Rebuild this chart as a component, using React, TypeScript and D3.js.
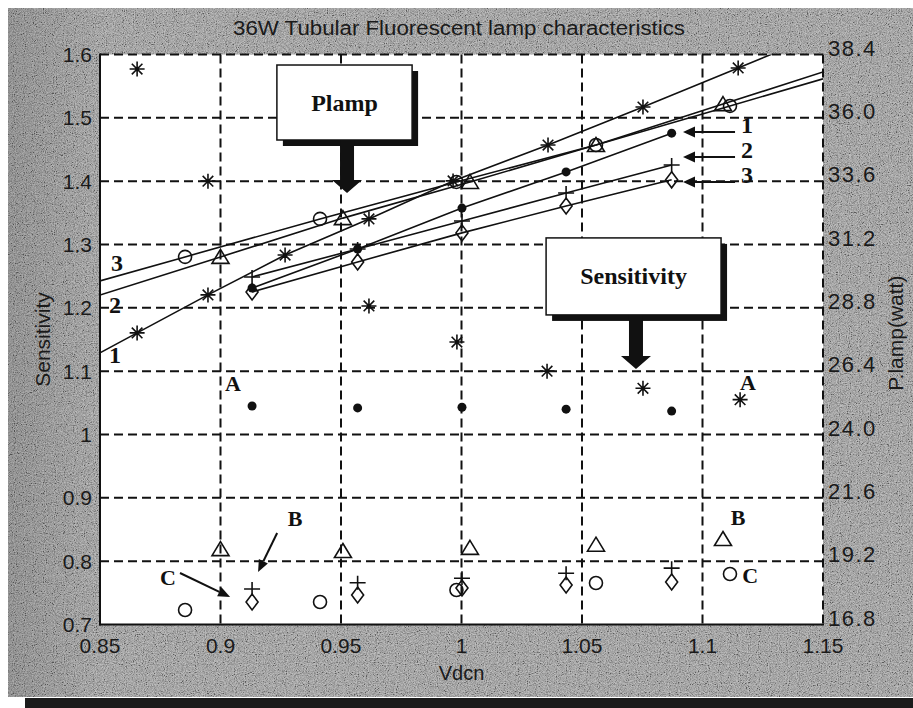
import React from 'react';
import * as d3 from 'd3';

// ---------- axis ticks ----------
const xTicks = [0.85, 0.9, 0.95, 1.0, 1.05, 1.1, 1.15];
const xTickLabels = ['0.85', '0.9', '0.95', '1', '1.05', '1.1', '1.15'];
const yTicks = [0.7, 0.8, 0.9, 1.0, 1.1, 1.2, 1.3, 1.4, 1.5, 1.6];
const yTickLabels = ['0.7', '0.8', '0.9', '1', '1.1', '1.2', '1.3', '1.4', '1.5', '1.6'];
const pTicks = [16.8, 19.2, 21.6, 24.0, 26.4, 28.8, 31.2, 33.6, 36.0, 38.4];
const pTickLabels = ['16.8', '19.2', '21.6', '24.0', '26.4', '28.8', '31.2', '33.6', '36.0', '38.4'];

// ---------- Plamp (watt, right axis) curves ----------
const vStar = [0.8654, 0.8948, 0.9268, 0.9616, 0.9965, 1.0359, 1.0753, 1.1148];
const pStar = [27.85, 29.29, 30.8, 32.17, 33.61, 34.97, 36.41, 37.89];
const vTri = [0.9, 0.9508, 1.0035, 1.0558, 1.1085];
const pTri = [30.73, 32.2, 33.57, 34.97, 36.52];
const vCircle = [0.8853, 0.9413, 0.9979, 1.0558, 1.1114];
const pCircle = [30.73, 32.17, 33.57, 34.97, 36.45];
const vMid = [0.9131, 0.9569, 1.0002, 1.0434, 1.0872];
const pDot = [29.55, 31.03, 32.58, 33.95, 35.42];
const pPlus = [29.97, 31.03, 32.09, 33.15, 34.21];
const pDiamond = [29.4, 30.54, 31.64, 32.66, 33.65];

// ---------- Sensitivity (left axis) points ----------
const vSensStar = [0.8654, 0.8948, 0.9616, 0.9981, 1.0355, 1.0753, 1.1156];
const sStar = [1.577, 1.4, 1.203, 1.146, 1.1, 1.073, 1.055];
const sDot = [1.045, 1.042, 1.043, 1.04, 1.037];
const sTri = [0.819, 0.816, 0.821, 0.826, 0.835];
const sPlus = [0.756, 0.766, 0.773, 0.781, 0.789];
const sDiamond = [0.7355, 0.7466, 0.7576, 0.7624, 0.7671];
const sCircle = [0.7229, 0.7355, 0.7545, 0.7655, 0.7797];

const W = 913;
const H = 708;
const L = 100, R = 823, T = 54.5, B = 624.5;

const xs = d3.scaleLinear().domain([0.85, 1.15]).range([L, R]);
const ys = d3.scaleLinear().domain([0.7, 1.6]).range([B, T]);
const yp = d3.scaleLinear().domain([16.8, 38.4]).range([B, T]);

const SANS = '"Liberation Sans", Arial, sans-serif';
const SERIF = '"Liberation Serif", "Times New Roman", serif';

function extendLine(v: number[], p: number[]): [number, number][] {
  const pts: [number, number][] = v.map((d, i) => [d, p[i]]);
  const s0 = (p[1] - p[0]) / (v[1] - v[0]);
  const n = v.length;
  const s1 = (p[n - 1] - p[n - 2]) / (v[n - 1] - v[n - 2]);
  const x0 = xs.domain()[0];
  const x1 = xs.domain()[1];
  return [[x0, p[0] + (x0 - v[0]) * s0], ...pts, [x1, p[n - 1] + (x1 - v[n - 1]) * s1]];
}

function Marker({ type, x, y }: { type: string; x: number; y: number }) {
  const st = { stroke: '#111', strokeWidth: 1.6, fill: 'none' } as const;
  if (type === 'circle') return <circle cx={x} cy={y} r={6.5} {...st} />;
  if (type === 'dot') return <circle cx={x} cy={y} r={4.5} fill="#111" />;
  let d = '';
  if (type === 'star') d = 'M-7.5,0H7.5M0,-7.5V7.5M-5.3,-5.3L5.3,5.3M-5.3,5.3L5.3,-5.3';
  if (type === 'plus') d = 'M-8,0H8M0,-7V7';
  if (type === 'tri') d = 'M0,-7.5L8.5,6.5L-8.5,6.5Z';
  if (type === 'diamond') d = 'M0,-8L6,0L0,8L-6,0Z';
  return <path d={d} transform={`translate(${x},${y})`} {...st} />;
}

function Arrow({ x1, y1, x2, y2, len = 12, wid = 5 }: { x1: number; y1: number; x2: number; y2: number; len?: number; wid?: number }) {
  const dx = x2 - x1, dy = y2 - y1;
  const d = Math.hypot(dx, dy);
  const ux = dx / d, uy = dy / d;
  const bx = x2 - ux * len, by = y2 - uy * len;
  const head = `M${x2},${y2}L${bx - uy * wid},${by + ux * wid}L${bx + uy * wid},${by - ux * wid}Z`;
  return (
    <g>
      <line x1={x1} y1={y1} x2={bx} y2={by} stroke="#111" strokeWidth={2} />
      <path d={head} fill="#111" />
    </g>
  );
}

function BoxArrow({ v0, v1, sTop, sBot, vArrow, sTip, label }: { v0: number; v1: number; sTop: number; sBot: number; vArrow: number; sTip: number; label: string }) {
  const x0 = xs(v0), x1 = xs(v1), y0 = ys(sTop), y1 = ys(sBot);
  const cx = xs(vArrow), tip = ys(sTip);
  const hs = tip - 13;
  const arrow = `M${cx - 7},${y1}L${cx - 7},${hs}L${cx - 15},${hs}L${cx},${tip}L${cx + 15},${hs}L${cx + 7},${hs}L${cx + 7},${y1}Z`;
  return (
    <g>
      <rect x={x0 + 6} y={y0 + 6} width={x1 - x0} height={y1 - y0} fill="#111" />
      <rect x={x0} y={y0} width={x1 - x0} height={y1 - y0} fill="#fff" stroke="#111" strokeWidth={1.5} />
      <path d={arrow} fill="#111" />
      <text x={(x0 + x1) / 2} y={(y0 + y1) / 2 + 8} textAnchor="middle" fontFamily={SERIF} fontWeight="bold" fontSize={24} fill="#111">
        {label}
      </text>
    </g>
  );
}

export default function App() {
  const lineGen = d3.line<[number, number]>().x(d => xs(d[0])).y(d => yp(d[1]));

  const plampCurves = [
    { v: vStar, p: pStar, m: 'star', ext: true },
    { v: vTri, p: pTri, m: 'tri', ext: true },
    { v: vCircle, p: pCircle, m: 'circle', ext: true },
    { v: vMid, p: pDot, m: 'dot', ext: false },
    { v: vMid, p: pPlus, m: 'plus', ext: false },
    { v: vMid, p: pDiamond, m: 'diamond', ext: false },
  ];
  const sensPoints = [
    { v: vSensStar, s: sStar, m: 'star' },
    { v: vMid, s: sDot, m: 'dot' },
    { v: vTri, s: sTri, m: 'tri' },
    { v: vMid, s: sPlus, m: 'plus' },
    { v: vMid, s: sDiamond, m: 'diamond' },
    { v: vCircle, s: sCircle, m: 'circle' },
  ];

  const labelStyle = { fontFamily: SERIF, fontWeight: 'bold' as const, fontSize: 24, fill: '#111' };

  return (
    <svg width={W} height={H} style={{ position: 'absolute', left: 0, top: 0, background: '#fff' }}>
      <defs>
        <filter id="grain" x="0" y="0" width="100%" height="100%">
          <feTurbulence type="fractalNoise" baseFrequency="0.9" numOctaves="3" seed="11" stitchTiles="stitch" />
          <feColorMatrix type="saturate" values="0" />
          <feComponentTransfer>
            <feFuncR type="linear" slope="2.4" intercept="-0.7" />
            <feFuncG type="linear" slope="2.4" intercept="-0.7" />
            <feFuncB type="linear" slope="2.4" intercept="-0.7" />
            <feFuncA type="table" tableValues="1 1" />
          </feComponentTransfer>
        </filter>
        <linearGradient id="leftShade" x1="0" x2="1" y1="0" y2="0">
          <stop offset="0" stopColor="#000" stopOpacity="0.12" />
          <stop offset="1" stopColor="#000" stopOpacity="0" />
        </linearGradient>
        <clipPath id="plotClip">
          <rect x={L} y={T} width={R - L} height={B - T} />
        </clipPath>
      </defs>

      {/* textured gray panel */}
      <rect x={8} y={8} width={W - 8} height={689} fill="#989898" />
      <rect x={8} y={8} width={W - 8} height={689} filter="url(#grain)" opacity={0.4} />
      <rect x={8} y={8} width={95} height={689} fill="url(#leftShade)" />
      <rect x={25} y={698} width={W - 25} height={10} fill="#1b1b1b" />

      {/* plot area */}
      <rect x={L} y={T} width={R - L} height={B - T} fill="#fff" />

      {/* grid */}
      <g stroke="#111" strokeWidth={2} strokeDasharray="9 5">
        {xTicks.slice(1).map(t => (
          <line key={'gx' + t} x1={xs(t)} x2={xs(t)} y1={T} y2={B} />
        ))}
        {yTicks.slice(1).map(t => (
          <line key={'gy' + t} x1={L} x2={R} y1={ys(t)} y2={ys(t)} />
        ))}
      </g>
      <line x1={L} x2={L} y1={T - 1} y2={B + 1} stroke="#111" strokeWidth={2} />
      <line x1={L - 1} x2={R + 1} y1={B} y2={B} stroke="#111" strokeWidth={2} />

      {/* Plamp curves */}
      <g clipPath="url(#plotClip)">
        {plampCurves.map((c, i) => (
          <path
            key={'c' + i}
            d={lineGen(c.ext ? extendLine(c.v, c.p) : c.v.map((d, j) => [d, c.p[j]] as [number, number])) || ''}
            fill="none"
            stroke="#111"
            strokeWidth={1.6}
          />
        ))}
      </g>
      {plampCurves.map((c, i) => (
        <g key={'m' + i}>
          {c.v.map((d, j) => (
            <Marker key={j} type={c.m} x={xs(d)} y={yp(c.p[j])} />
          ))}
        </g>
      ))}

      {/* Sensitivity points */}
      {sensPoints.map((c, i) => (
        <g key={'s' + i}>
          {c.v.map((d, j) => (
            <Marker key={j} type={c.m} x={xs(d)} y={ys(c.s[j])} />
          ))}
        </g>
      ))}

      {/* axis labels */}
      <g fontFamily={SANS} fontSize={21} fill="#1a1a1a">
        {yTicks.map((t, i) => (
          <text key={'yl' + t} x={L - 8} y={ys(t) + 7.5} textAnchor="end">
            {yTickLabels[i]}
          </text>
        ))}
        {xTicks.map((t, i) => (
          <text key={'xl' + t} x={xs(t)} y={B + 28} textAnchor="middle">
            {xTickLabels[i]}
          </text>
        ))}
        {pTicks.map((t, i) => (
          <text key={'pl' + t} x={R + 5} y={yp(t) + 1} textAnchor="start" fontSize={22} letterSpacing={1.5}>
            {pTickLabels[i]}
          </text>
        ))}
        <text x={xs(1.0)} y={680} textAnchor="middle" fontSize={20}>Vdcn</text>
        <text transform={`translate(50,${ys(1.15)}) rotate(-90)`} textAnchor="middle" fontSize={21}>Sensitivity</text>
        <text transform={`translate(903,${ys(1.16)}) rotate(-90)`} textAnchor="middle" fontSize={21}>P.lamp(watt)</text>
        <text x={459} y={35} textAnchor="middle" fontSize={20} textLength={452} lengthAdjust="spacingAndGlyphs">
          36W Tubular Fluorescent lamp  characteristics
        </text>
      </g>

      {/* annotation boxes */}
      <BoxArrow v0={0.9234} v1={0.9795} sTop={1.5834} sBot={1.465} vArrow={0.9525} sTip={1.3813} label="Plamp" />
      <BoxArrow v0={1.0351} v1={1.1077} sTop={1.3104} sBot={1.1888} vArrow={1.0724} sTip={1.1034} label="Sensitivity" />

      {/* right 1/2/3 arrows */}
      <Arrow x1={xs(1.1135)} y1={ys(1.4776)} x2={xs(1.0919)} y2={ys(1.4776)} len={12} wid={5.5} />
      <Arrow x1={xs(1.1135)} y1={ys(1.4382)} x2={xs(1.0919)} y2={ys(1.4382)} len={12} wid={5.5} />
      <Arrow x1={xs(1.1135)} y1={ys(1.3987)} x2={xs(1.0919)} y2={ys(1.3987)} len={12} wid={5.5} />
      <text x={xs(1.116)} y={ys(1.4776) + 1} {...labelStyle}>1</text>
      <text x={xs(1.116)} y={ys(1.4382) + 1} {...labelStyle}>2</text>
      <text x={xs(1.116)} y={ys(1.3987) + 1} {...labelStyle}>3</text>

      {/* left 1/2/3 */}
      <text x={xs(0.8571)} y={ys(1.2582)} textAnchor="middle" {...labelStyle}>3</text>
      <text x={xs(0.8562)} y={ys(1.1919)} textAnchor="middle" {...labelStyle}>2</text>
      <text x={xs(0.8562)} y={ys(1.1129)} textAnchor="middle" {...labelStyle}>1</text>

      {/* A, B, C */}
      <text x={xs(0.9052)} y={ys(1.0687)} textAnchor="middle" {...labelStyle} fontSize={22}>A</text>
      <text x={xs(1.1189)} y={ys(1.0703)} textAnchor="middle" {...labelStyle} fontSize={22}>A</text>
      <text x={xs(0.9309)} y={ys(0.8555)} textAnchor="middle" {...labelStyle} fontSize={22}>B</text>
      <text x={xs(1.1148)} y={ys(0.8571)} textAnchor="middle" {...labelStyle} fontSize={22}>B</text>
      <text x={xs(0.8782)} y={ys(0.7624)} textAnchor="middle" {...labelStyle} fontSize={22}>C</text>
      <text x={xs(1.1198)} y={ys(0.7655)} textAnchor="middle" {...labelStyle} fontSize={22}>C</text>
      <Arrow x1={xs(0.9235)} y1={ys(0.8445)} x2={xs(0.9156)} y2={ys(0.7829)} len={12} wid={5} />
      <Arrow x1={xs(0.8832)} y1={ys(0.7813)} x2={xs(0.904)} y2={ys(0.7434)} len={12} wid={5} />
    </svg>
  );
}
